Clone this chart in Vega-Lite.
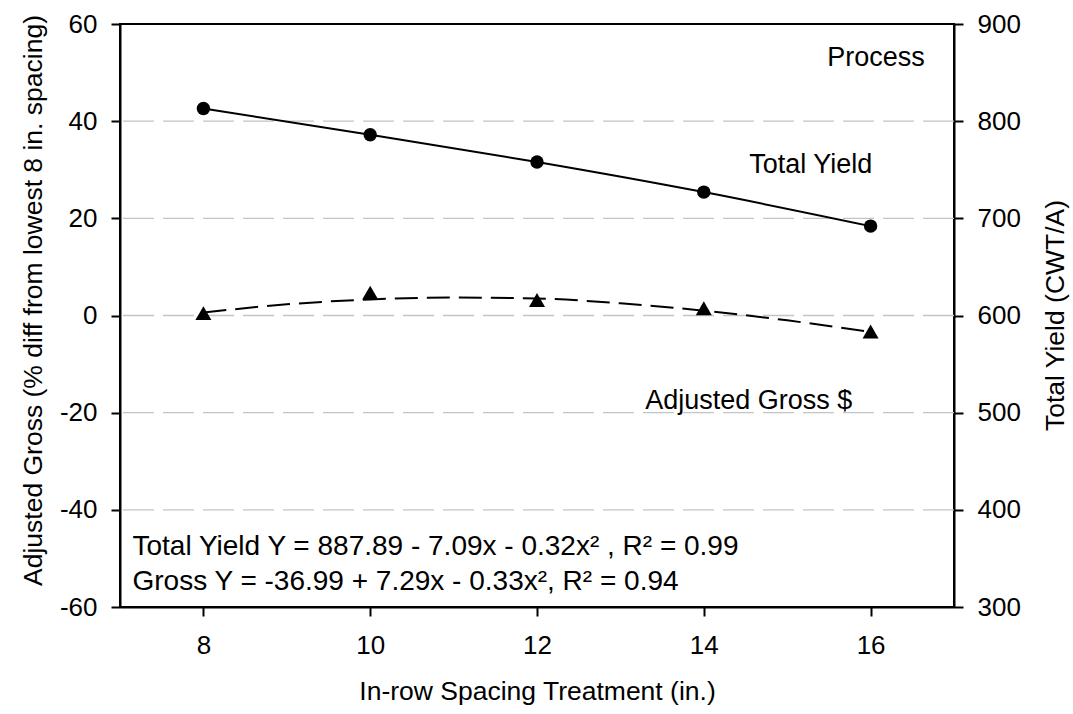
{
  "$schema": "https://vega.github.io/schema/vega-lite/v6.json",
  "width": 834,
  "height": 583,
  "autosize": {"type": "none"},
  "padding": {"left": 120, "top": 24, "right": 119, "bottom": 107},
  "background": "white",
  "config": {
    "view": {"stroke": "black", "strokeWidth": 2},
    "font": "Liberation Sans",
    "axis": {
      "labelFont": "Liberation Sans",
      "titleFont": "Liberation Sans",
      "labelFontSize": 26,
      "titleFontSize": 26.5,
      "titleFontWeight": "normal",
      "labelColor": "black",
      "titleColor": "black",
      "domainColor": "black",
      "domainWidth": 2,
      "tickColor": "black",
      "tickWidth": 2,
      "tickSize": 9,
      "labelExpr": "replace(datum.label, '−', '-')"
    }
  },
  "datasets": {
    "yield": [
      {"x": 8, "y": 813},
      {"x": 10, "y": 786},
      {"x": 12, "y": 758},
      {"x": 14, "y": 727},
      {"x": 16, "y": 692}
    ],
    "gross": [
      {"x": 8, "y": 0.5},
      {"x": 10, "y": 4.7},
      {"x": 12, "y": 3.2},
      {"x": 14, "y": 1.5},
      {"x": 16, "y": -3.3}
    ],
    "grossfit": [
      {"x": 8, "y": 0.6},
      {"x": 9, "y": 2.3},
      {"x": 10, "y": 3.3},
      {"x": 11, "y": 3.7},
      {"x": 12, "y": 3.5},
      {"x": 13, "y": 2.5},
      {"x": 14, "y": 1.0},
      {"x": 15, "y": -1.0},
      {"x": 16, "y": -3.4}
    ],
    "labels": [
      {"x": 16.65, "y": 53, "text": "Process"},
      {"x": 16.02, "y": 31, "text": "Total Yield"},
      {"x": 15.78, "y": -17.6, "text": "Adjusted Gross $"}
    ],
    "eqs": [
      {"x": 7.15, "y": -49.3, "text": "Total Yield Y = 887.89 - 7.09x - 0.32x² , R² = 0.99"},
      {"x": 7.15, "y": -56.5, "text": "Gross Y = -36.99 + 7.29x - 0.33x², R² = 0.94"}
    ],
    "grid": [{"g": -40}, {"g": -20}, {"g": 0}, {"g": 20}, {"g": 40}]
  },
  "layer": [
    {
      "data": {"name": "grid"},
      "mark": {"type": "rule", "color": "#c4c4c4", "strokeWidth": 1.3, "strokeDash": [31, 9]},
      "encoding": {
        "y": {"field": "g", "type": "quantitative", "scale": {"domain": [-60, 60]}, "axis": null}
      }
    },
    {
      "data": {"name": "gross"},
      "layer": [
        {
          "data": {"name": "grossfit"},
          "mark": {"type": "line", "color": "black", "strokeWidth": 2, "strokeDash": [23, 9], "interpolate": "monotone"},
          "encoding": {
            "x": {"field": "x", "type": "quantitative"},
            "y": {"field": "y", "type": "quantitative"}
          }
        },
        {
          "mark": {"type": "point", "shape": "triangle-up", "filled": true, "color": "black", "opacity": 1, "size": 256},
          "encoding": {
            "x": {"field": "x", "type": "quantitative"},
            "y": {"field": "y", "type": "quantitative"}
          }
        },
        {
          "data": {"name": "labels"},
          "mark": {"type": "text", "fontSize": 27, "font": "Liberation Sans", "color": "black", "align": "right", "baseline": "middle"},
          "encoding": {
            "x": {"field": "x", "type": "quantitative"},
            "y": {"field": "y", "type": "quantitative"},
            "text": {"field": "text"}
          }
        },
        {
          "data": {"name": "eqs"},
          "mark": {"type": "text", "fontSize": 28, "font": "Liberation Sans", "color": "black", "align": "left", "baseline": "alphabetic"},
          "encoding": {
            "x": {"field": "x", "type": "quantitative"},
            "y": {"field": "y", "type": "quantitative"},
            "text": {"field": "text"}
          }
        }
      ],
      "encoding": {
        "x": {
          "field": "x", "type": "quantitative",
          "scale": {"domain": [7, 17], "nice": false, "zero": false},
          "axis": {"values": [8, 10, 12, 14, 16], "title": "In-row Spacing Treatment (in.)", "grid": false, "titlePadding": 20, "labelPadding": 16}
        },
        "y": {
          "field": "y", "type": "quantitative",
          "scale": {"domain": [-60, 60], "nice": false},
          "axis": {"values": [-60, -40, -20, 0, 20, 40, 60], "title": "Adjusted Gross (% diff from lowest 8 in. spacing)", "titleY": 276, "titleAlign": "center", "grid": false, "titlePadding": 12, "labelPadding": 14}
        }
      }
    },
    {
      "data": {"name": "yield"},
      "layer": [
        {
          "mark": {"type": "line", "color": "black", "strokeWidth": 2, "interpolate": "monotone"}
        },
        {
          "mark": {"type": "point", "shape": "circle", "filled": true, "color": "black", "opacity": 1, "size": 180}
        }
      ],
      "encoding": {
        "x": {
          "field": "x", "type": "quantitative",
          "scale": {"domain": [7, 17], "nice": false, "zero": false},
          "axis": {"values": [8, 10, 12, 14, 16], "title": "In-row Spacing Treatment (in.)", "grid": false, "titlePadding": 20, "labelPadding": 16}
        },
        "y": {
          "field": "y", "type": "quantitative",
          "scale": {"domain": [300, 900], "nice": false, "zero": false},
          "axis": {"orient": "right", "values": [300, 400, 500, 600, 700, 800, 900], "title": "Total Yield (CWT/A)", "titleAngle": 270, "titleX": 101, "titleY": 291, "titleAlign": "center", "titleBaseline": "middle", "grid": false, "labelPadding": 14}
        }
      }
    }
  ],
  "resolve": {"scale": {"y": "independent"}}
}
